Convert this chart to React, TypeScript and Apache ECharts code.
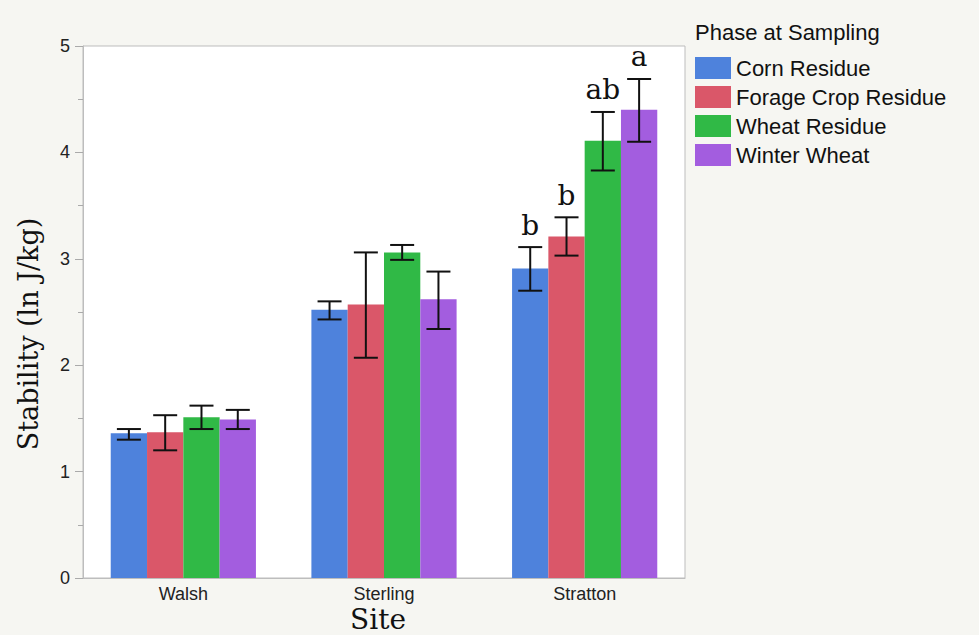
import React, { useEffect, useRef } from "react";
import * as echarts from "echarts";

// Sites along the x axis
const sites = ["Walsh", "Sterling", "Stratton"];

// Crop phase at the time of sampling
const phases = ["Corn Residue", "Forage Crop Residue", "Wheat Residue", "Winter Wheat"];
const phaseColors = ["#4e82dc", "#da5769", "#30b946", "#a35ddf"];

// Mean stability (ln J/kg) per site, with error-bar bounds
const cornMean = [1.36, 2.52, 2.91];
const cornLow = [1.3, 2.43, 2.7];
const cornHigh = [1.4, 2.6, 3.11];

const forageMean = [1.37, 2.57, 3.21];
const forageLow = [1.2, 2.07, 3.03];
const forageHigh = [1.53, 3.06, 3.39];

const wheatMean = [1.51, 3.06, 4.11];
const wheatLow = [1.4, 2.99, 3.83];
const wheatHigh = [1.62, 3.13, 4.38];

const winterMean = [1.49, 2.62, 4.4];
const winterLow = [1.4, 2.34, 4.1];
const winterHigh = [1.58, 2.88, 4.69];

// Significance letters (Stratton only)
const cornLetters = ["", "", "b"];
const forageLetters = ["", "", "b"];
const wheatLetters = ["", "", "ab"];
const winterLetters = ["", "", "a"];

const yTicks = [0, 1, 2, 3, 4, 5];

const means = [cornMean, forageMean, wheatMean, winterMean];
const lows = [cornLow, forageLow, wheatLow, winterLow];
const highs = [cornHigh, forageHigh, wheatHigh, winterHigh];
const letters = [cornLetters, forageLetters, wheatLetters, winterLetters];

const BAR_W = 36.3;
const CAP_W = 24;
const SANS = "'Liberation Sans', Arial, Helvetica, sans-serif";
const SERIF = "'DejaVu Serif', Georgia, serif";

export default function App() {
  const ref = useRef<HTMLDivElement>(null);

  useEffect(() => {
    if (!ref.current) return;
    const chart = echarts.init(ref.current, null, { renderer: "svg" });

    const barSeries = phases.map((name, k) => ({
      name,
      type: "bar",
      barWidth: BAR_W,
      barGap: "0%",
      itemStyle: { color: phaseColors[k] },
      data: means[k],
      z: 2,
    }));

    const errSeries = phases.map((name, k) => ({
      name: name + " error",
      type: "custom",
      z: 5,
      encode: { x: 0, y: [1, 2] },
      data: sites.map((_, i) => [i, lows[k][i], highs[k][i]]),
      renderItem: (params: any, api: any) => {
        const cat = api.value(0);
        const lo = api.coord([cat, api.value(1)]);
        const hi = api.coord([cat, api.value(2)]);
        const x = lo[0] + (k - 1.5) * BAR_W;
        const line = { stroke: "#111", lineWidth: 2 };
        const children: any[] = [
          { type: "line", shape: { x1: x, y1: hi[1], x2: x, y2: lo[1] }, style: line },
          { type: "line", shape: { x1: x - CAP_W / 2, y1: hi[1], x2: x + CAP_W / 2, y2: hi[1] }, style: line },
          { type: "line", shape: { x1: x - CAP_W / 2, y1: lo[1], x2: x + CAP_W / 2, y2: lo[1] }, style: line },
        ];
        const letter = letters[k][params.dataIndex];
        if (letter) {
          children.push({
            type: "text",
            x,
            y: hi[1] - 8,
            style: {
              text: letter,
              fill: "#111",
              font: `28px ${SERIF}`,
              align: "center",
              verticalAlign: "bottom",
            },
          });
        }
        return { type: "group", children };
      },
    }));

    chart.setOption({
      animation: false,
      backgroundColor: "#f6f6f2",
      grid: {
        left: 83,
        top: 46,
        width: 602,
        height: 532,
        show: true,
        backgroundColor: "#ffffff",
        borderColor: "#bdbdbd",
        borderWidth: 1,
      },
      legend: {
        data: phases,
        orient: "vertical",
        left: 695,
        top: 57,
        padding: 0,
        icon: "rect",
        itemWidth: 36,
        itemHeight: 22,
        itemGap: 7,
        selectedMode: false,
        textStyle: { fontFamily: SANS, fontSize: 22, color: "#111", lineHeight: 22 },
      },
      graphic: [
        {
          type: "text",
          left: 695,
          top: 21,
          style: { text: "Phase at Sampling", font: `22px ${SANS}`, fill: "#111" },
        },
        {
          type: "text",
          x: 28,
          y: 334,
          rotation: Math.PI / 2,
          style: {
            text: "Stability (ln J/kg)",
            font: `27px ${SERIF}`,
            fill: "#111",
            align: "center",
            verticalAlign: "middle",
          },
        },
        {
          type: "text",
          x: 378,
          y: 619,
          style: {
            text: "Site",
            font: `28px ${SERIF}`,
            fill: "#111",
            align: "center",
            verticalAlign: "middle",
          },
        },
      ],
      xAxis: {
        type: "category",
        data: sites,
        axisLine: { show: true, lineStyle: { color: "#bdbdbd" } },
        axisTick: { show: false },
        axisLabel: { fontFamily: SANS, fontSize: 18, color: "#222", margin: 7 },
      },
      yAxis: {
        type: "value",
        min: 0,
        max: 5,
        interval: 1,
        axisLine: { show: true, lineStyle: { color: "#bdbdbd" } },
        axisTick: { show: true, length: 8, lineStyle: { color: "#aaa" } },
        minorTick: { show: true, splitNumber: 2, length: 5, lineStyle: { color: "#aaa" } },
        splitLine: { show: false },
        axisLabel: {
          fontFamily: SANS,
          fontSize: 18,
          color: "#222",
          margin: 13,
          formatter: (v: number) => (yTicks.includes(v) ? String(v) : ""),
        },
      },
      series: [...barSeries, ...errSeries],
    });

    return () => chart.dispose();
  }, []);

  return (
    <div
      ref={ref}
      style={{ position: "fixed", left: 0, top: 0, width: 979, height: 635 }}
    />
  );
}
